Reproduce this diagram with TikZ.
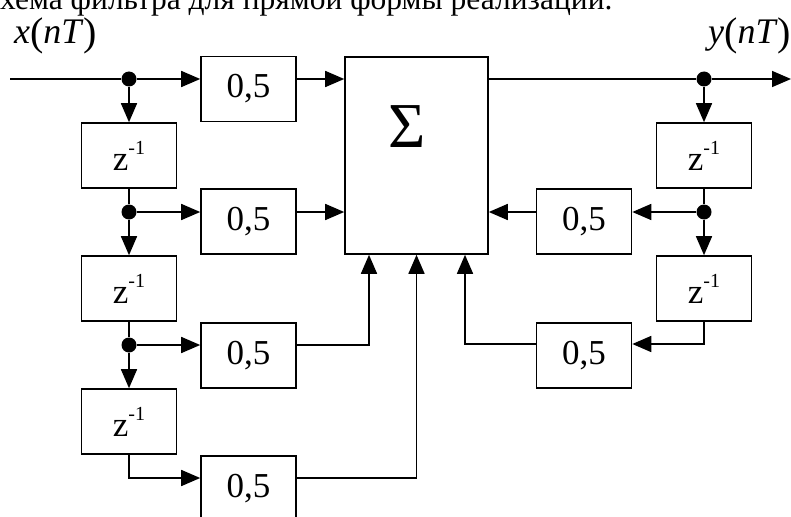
\documentclass[tikz,border=0pt]{standalone}
\usepackage{fontspec}
\setmainfont{Liberation Serif}
\usetikzlibrary{arrows.meta}

\tikzset{
  blok/.style={draw, line width=1.6pt, minimum width=95pt, minimum height=65pt,
    inner sep=0pt, font=\fontsize{35}{35}\selectfont},
  tochka/.style={circle, fill, inner sep=0pt, minimum size=15pt},
  svyaz/.style={line width=1.6pt},
  strelka/.style={svyaz, -{Triangle[length=19pt,width=16pt]}},
}
\newcommand{\zinv}{z\raisebox{16pt}{\fontsize{20}{20}\selectfont -1}\hspace{19pt}}
\newcommand{\bigpar}[1]{\raisebox{-2pt}{\fontsize{40}{40}\selectfont #1}}

\begin{document}
\begin{tikzpicture}[x=1pt,y=-1pt]
  \path[use as bounding box, clip] (0,0) rectangle (791,516);

  % Caption line (cut by the page edge)
  \node[anchor=base west, inner sep=0pt, font=\fontsize{31.5}{31.5}\selectfont]
    (podpis) at (-21,10) {Схема фильтра для прямой формы реализации.};

  % Input and output signals
  \node[anchor=base west, inner sep=0pt, font=\fontsize{36}{36}\selectfont]
    (xnT) at (14,44) {\textit{x}\bigpar{(}\textit{nT}\bigpar{)}};
  \node[anchor=base west, inner sep=0pt, font=\fontsize{36}{36}\selectfont]
    (ynT) at (708,44) {\textit{y}\bigpar{(}\textit{nT}\bigpar{)}};
  \coordinate (vhod) at (10,79);
  \coordinate (vyhod) at (791,79);

  % Branch points
  \node[tochka] (t1) at (129,79) {};
  \node[tochka] (t2) at (129,212) {};
  \node[tochka] (t3) at (129,345) {};
  \node[tochka] (r1) at (704,79) {};
  \node[tochka] (r2) at (704,212) {};

  % Delay elements
  \node[blok] (z1) at (129,155.5) {\zinv};
  \node[blok] (z2) at (129,288.5) {\zinv};
  \node[blok] (z3) at (129,421.5) {\zinv};
  \node[blok] (zr1) at (704,155.5) {\zinv};
  \node[blok] (zr2) at (704,288.5) {\zinv};

  % Multipliers
  \node[blok] (k1) at (248.5,89) {0,5};
  \node[blok] (k2) at (248.5,221.5) {0,5};
  \node[blok] (k3) at (248.5,355.5) {0,5};
  \node[blok] (k4) at (248.5,488.5) {0,5};
  \node[blok] (kr1) at (584,221.5) {0,5};
  \node[blok] (kr2) at (584,355.5) {0,5};

  % Adder
  \node[draw, line width=1.6pt, minimum width=143pt, minimum height=197pt,
    inner sep=0pt] (summa) at (416.5,155.5) {};
  \node[inner sep=0pt, font=\fontsize{64}{64}\selectfont] (sigma) at (407,127) {Σ};

  % Left (forward) part
  \draw[svyaz] (vhod) -- (t1);
  \draw[strelka] (t1) -- (k1.west |- t1);
  \draw[strelka] (k1.east |- t1) -- (summa.west |- t1);
  \draw[strelka] (t1) -- (z1.north);
  \draw[svyaz] (z1.south) -- (t2);
  \draw[strelka] (t2) -- (z2.north);
  \draw[strelka] (t2) -- (k2.west |- t2);
  \draw[strelka] (k2.east |- t2) -- (summa.west |- t2);
  \draw[svyaz] (z2.south) -- (t3);
  \draw[strelka] (t3) -- (z3.north);
  \draw[strelka] (t3) -- (k3.west |- t3);
  \draw[strelka] (k3.east |- t3) -| ([xshift=-47.5pt]summa.south);
  \draw[strelka] (z3.south) |- ([yshift=10.5pt]k4.west);
  \draw[strelka] ([yshift=10.5pt]k4.east) -| (summa.south);

  % Right (feedback) part
  \draw[svyaz] (summa.east |- r1) -- (r1);
  \draw[strelka] (r1) -- (vyhod);
  \draw[strelka] (r1) -- (zr1.north);
  \draw[svyaz] (zr1.south) -- (r2);
  \draw[strelka] (r2) -- (zr2.north);
  \draw[strelka] (r2) -- (kr1.east |- r2);
  \draw[strelka] (kr1.west |- r2) -- (summa.east |- r2);
  \draw[strelka] (zr2.south) |- ([yshift=11.5pt]kr2.east);
  \draw[strelka] ([yshift=11.5pt]kr2.west) -| ([xshift=48.5pt]summa.south);
\end{tikzpicture}
\end{document}
